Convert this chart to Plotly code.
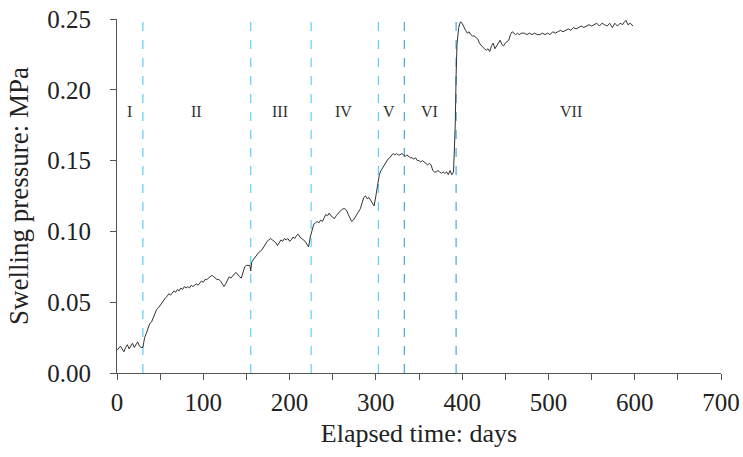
import plotly.graph_objects as go

days = [0, 2, 4, 6, 8, 10, 12, 14, 16, 18, 20, 22, 24, 26, 28, 30,
        32, 34, 36, 38, 40, 42, 44, 46, 48, 50, 52, 54, 56, 58, 60, 62, 64, 66, 68, 70,
        72, 74, 76, 78, 80, 82, 84, 86, 88, 90, 92, 94, 96, 98, 100, 102, 104, 106, 108, 110,
        112, 114, 116, 118, 120, 122, 124, 126, 128, 130, 132, 134, 136, 138, 140, 142, 144, 146, 148, 150,
        152, 154, 155, 156, 158, 160, 162, 164, 166, 168, 170, 172, 174, 176, 178, 180, 182, 184, 186, 188,
        190, 192, 194, 196, 198, 200, 202, 204, 206, 208, 210, 212, 214, 216, 218, 220, 222, 224, 226, 228,
        230, 232, 234, 236, 238, 240, 242, 244, 246, 248, 250, 252, 254, 256, 258, 260, 262, 264, 266, 268,
        270, 272, 274, 276, 278, 280, 282, 284, 286, 288, 290, 292, 294, 296, 298, 300, 302, 304, 306, 308,
        310, 312, 314, 316, 318, 320, 322, 324, 326, 328, 330, 332, 334, 336, 338, 340, 342, 344, 346, 348,
        350, 352, 354, 356, 358, 360, 362, 364, 366, 368, 370, 372, 374, 376, 378, 380, 382, 384, 386, 388,
        390, 392, 393, 394, 396, 398, 400, 402, 404, 406, 408, 410, 412, 414, 416, 418, 420, 422, 424, 426,
        428, 430, 432, 434, 436, 438, 440, 442, 444, 446, 448, 450, 452, 454, 456, 458, 460, 462, 464, 466,
        469, 472, 475, 478, 481, 484, 487, 490, 493, 496, 499, 502, 505, 508, 511, 514, 517, 520, 523, 526,
        529, 532, 535, 538, 541, 544, 547, 550, 553, 556, 559, 562, 565, 568, 571, 574, 577, 580, 583, 586,
        588, 590, 592, 595, 598]

pressure = [0.016, 0.018, 0.019, 0.017, 0.015, 0.018, 0.020, 0.017, 0.019, 0.021, 0.018, 0.020, 0.022, 0.019, 0.018, 0.018,
            0.025, 0.028, 0.031, 0.035, 0.036, 0.039, 0.042, 0.045, 0.046, 0.048, 0.050, 0.052, 0.053, 0.054, 0.056, 0.055, 0.057, 0.058, 0.057, 0.059,
            0.058, 0.060, 0.059, 0.061, 0.060, 0.061, 0.060, 0.062, 0.061, 0.062, 0.063, 0.062, 0.064, 0.065, 0.064, 0.066, 0.066, 0.067, 0.068, 0.069,
            0.068, 0.067, 0.066, 0.066, 0.065, 0.063, 0.061, 0.063, 0.066, 0.068, 0.067, 0.069, 0.070, 0.071, 0.069, 0.068, 0.067, 0.072, 0.075, 0.076,
            0.076, 0.076, 0.072, 0.078, 0.080, 0.082, 0.083, 0.085, 0.086, 0.087, 0.089, 0.091, 0.093, 0.094, 0.095, 0.094, 0.093, 0.092, 0.090, 0.092,
            0.094, 0.093, 0.095, 0.094, 0.095, 0.093, 0.094, 0.096, 0.095, 0.097, 0.098, 0.096, 0.095, 0.094, 0.093, 0.091, 0.089, 0.096, 0.101, 0.105,
            0.106, 0.107, 0.106, 0.108, 0.107, 0.109, 0.112, 0.111, 0.113, 0.111, 0.110, 0.109, 0.111, 0.113, 0.114, 0.115, 0.116, 0.116, 0.115, 0.112,
            0.109, 0.107, 0.108, 0.110, 0.112, 0.114, 0.116, 0.120, 0.124, 0.125, 0.123, 0.124, 0.122, 0.120, 0.118, 0.125, 0.134, 0.140, 0.143, 0.145,
            0.148, 0.150, 0.151, 0.152, 0.154, 0.155, 0.154, 0.155, 0.154, 0.154, 0.155, 0.154, 0.153, 0.154, 0.153, 0.152, 0.152, 0.151, 0.152, 0.150,
            0.150, 0.149, 0.150, 0.149, 0.148, 0.147, 0.148, 0.147, 0.143, 0.142, 0.142, 0.143, 0.142, 0.141, 0.142, 0.141, 0.142, 0.140, 0.143, 0.140,
            0.142, 0.175, 0.210, 0.232, 0.244, 0.248, 0.247, 0.244, 0.242, 0.240, 0.241, 0.239, 0.238, 0.238, 0.237, 0.236, 0.233, 0.231, 0.230, 0.229,
            0.228, 0.229, 0.227, 0.231, 0.233, 0.229, 0.231, 0.234, 0.235, 0.232, 0.231, 0.233, 0.234, 0.235, 0.239, 0.241, 0.240, 0.239, 0.240, 0.239,
            0.240, 0.240, 0.239, 0.240, 0.239, 0.240, 0.239, 0.239, 0.240, 0.239, 0.240, 0.239, 0.241, 0.240, 0.241, 0.242, 0.241, 0.242, 0.243, 0.242,
            0.244, 0.243, 0.244, 0.245, 0.244, 0.245, 0.246, 0.245, 0.246, 0.247, 0.245, 0.247, 0.246, 0.245, 0.247, 0.244, 0.247, 0.245, 0.247, 0.246,
            0.248, 0.249, 0.246, 0.247, 0.245]

boundaries = [30, 155, 225, 303, 333, 393]
boundary_colors = ["#5fd0f5", "#5fd0f5", "#5fd0f5", "#5fd0f5", "#4aa6d6", "#4aa6d6"]

phase_labels = ["I", "II", "III", "IV", "V", "VI", "VII"]
phase_x = [14, 92, 189, 262, 315, 362, 526]
phase_y = 0.185

fig = go.Figure()
fig.add_trace(go.Scatter(x=days, y=pressure, mode="lines",
                         line=dict(color="#333333", width=1), showlegend=False))

for b, c in zip(boundaries, boundary_colors):
    fig.add_shape(type="line", x0=b, x1=b, y0=0, y1=1.006, xref="x", yref="paper",
                  line=dict(color=c, width=1.2, dash="dash"), layer="below")

for lab, px in zip(phase_labels, phase_x):
    fig.add_annotation(x=px, y=phase_y, text=lab, showarrow=False,
                       font=dict(family="Liberation Serif", size=16, color="#333333"))

axis_common = dict(showline=True, linecolor="#555555", linewidth=1, ticks="outside",
                   ticklen=6, tickcolor="#555555", showgrid=False, zeroline=False,
                   ticklabeloverflow="allow", automargin=False,
                   tickfont=dict(family="Liberation Serif", size=25, color="#222222"))

fig.update_xaxes(range=[0, 700], dtick=100, tick0=0, ticklabelstandoff=1,
                 minor=dict(dtick=50, ticks="outside", ticklen=6, tickcolor="#555555"),
                 title=dict(text="Elapsed time: days", standoff=8,
                            font=dict(family="Liberation Serif", size=26, color="#222222")),
                 **axis_common)
fig.update_yaxes(range=[0, 0.25], dtick=0.05, tick0=0, tickformat=".2f", ticklabelstandoff=14,
                 title=dict(text="Swelling pressure: MPa", standoff=10,
                            font=dict(family="Liberation Serif", size=27, color="#222222")),
                 **axis_common)

fig.update_layout(width=743, height=457, margin=dict(l=117, r=22, t=19, b=84),
                  plot_bgcolor="white", paper_bgcolor="white")

fig.write_html("out.html")
